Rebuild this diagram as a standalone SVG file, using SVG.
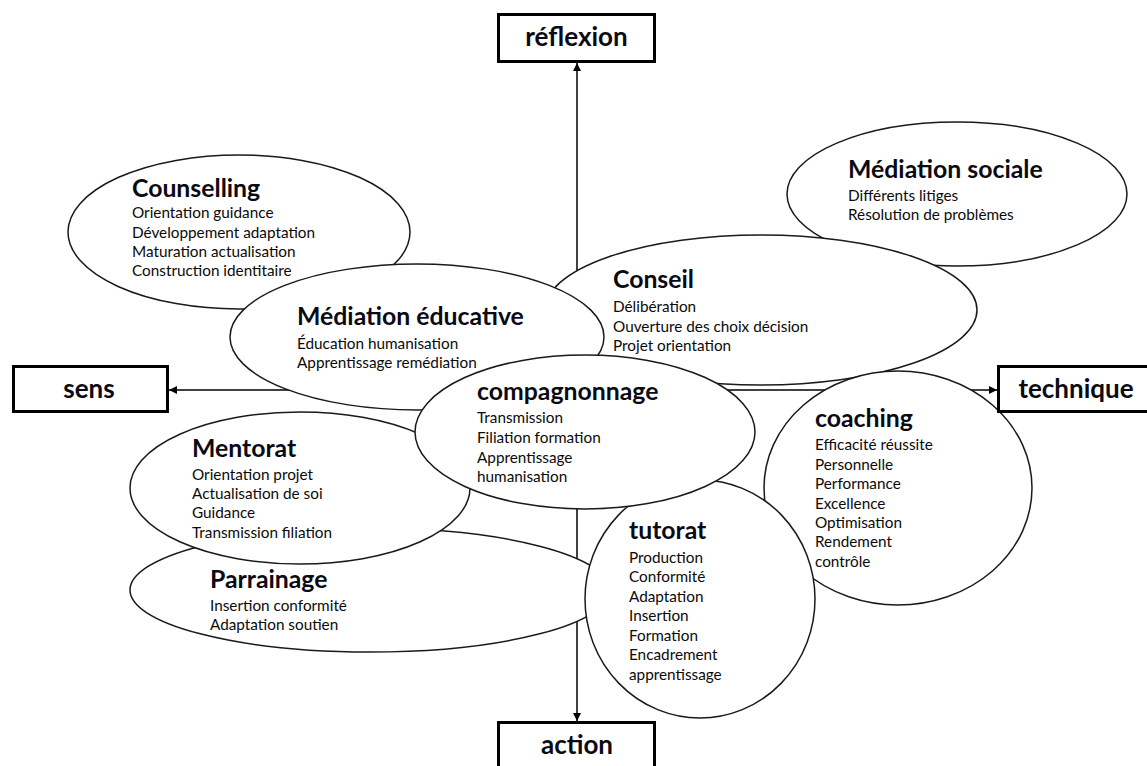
<svg xmlns="http://www.w3.org/2000/svg" width="1147" height="766" viewBox="0 0 1147 766">
<defs>
<marker id="arr" viewBox="0 0 8 8" refX="8" refY="4" markerWidth="8" markerHeight="8" markerUnits="userSpaceOnUse" orient="auto">
<path d="M0,0 L8,4 L0,8 z" fill="#000"/>
</marker>
</defs>
<style>
.ax{stroke:#000;stroke-width:1.5;fill:none}
.el{fill:#fff;stroke:#1a1a1a;stroke-width:1.5}
.box{fill:#fff;stroke:#000;stroke-width:3}
.t{font-family:Lato,"Liberation Sans",sans-serif;font-weight:bold;font-size:24.8px;fill:#0a0a14}
.b{font-family:Lato,"Liberation Sans",sans-serif;font-size:15.3px;fill:#0a0a0a}
.lb{font-family:Lato,"Liberation Sans",sans-serif;font-weight:bold;font-size:26px;fill:#0a0a14;text-anchor:middle}
</style>
<rect width="1147" height="766" fill="#fff"/>
<g id="connectors">
<line class="ax" x1="577" y1="390" x2="577" y2="63" marker-end="url(#arr)"/>
<line class="ax" x1="577" y1="390" x2="577" y2="721" marker-end="url(#arr)"/>
<line class="ax" x1="577" y1="390" x2="169" y2="390" marker-end="url(#arr)"/>
<line class="ax" x1="577" y1="390" x2="997" y2="390" marker-end="url(#arr)"/>
</g>
<g id="counselling">
<ellipse class="el" cx="239" cy="232" rx="171" ry="77"/>
<text class="t" x="132" y="197">Counselling</text>
<text class="b" x="132" y="218">Orientation  guidance</text>
<text class="b" x="132" y="238">Développement  adaptation</text>
<text class="b" x="132" y="257">Maturation actualisation</text>
<text class="b" x="132" y="276">Construction identitaire</text>
</g>
<g id="mediation-sociale">
<ellipse class="el" cx="957" cy="194" rx="170" ry="72"/>
<text class="t" x="848" y="178">Médiation sociale</text>
<text class="b" x="848" y="201">Différents litiges</text>
<text class="b" x="848" y="220">Résolution de problèmes</text>
</g>
<g id="conseil">
<ellipse class="el" cx="761" cy="310" rx="216" ry="75"/>
<text class="t" x="613" y="288">Conseil</text>
<text class="b" x="613" y="312">Délibération</text>
<text class="b" x="613" y="332">Ouverture  des choix décision</text>
<text class="b" x="613" y="351">Projet orientation</text>
</g>
<g id="mediation-educative">
<ellipse class="el" cx="417" cy="337" rx="187" ry="73"/>
<text class="t" x="297" y="325">Médiation éducative</text>
<text class="b" x="297" y="349">Éducation  humanisation</text>
<text class="b" x="297" y="368">Apprentissage  remédiation</text>
</g>
<g id="parrainage">
<ellipse class="el" cx="370" cy="590" rx="240" ry="62"/>
<text class="t" x="210" y="588">Parrainage</text>
<text class="b" x="210" y="611">Insertion conformité</text>
<text class="b" x="210" y="630">Adaptation soutien</text>
</g>
<g id="mentorat">
<ellipse class="el" cx="300" cy="488" rx="170" ry="76"/>
<text class="t" x="192" y="457">Mentorat</text>
<text class="b" x="192" y="480">Orientation  projet</text>
<text class="b" x="192" y="499">Actualisation de soi</text>
<text class="b" x="192" y="518">Guidance</text>
<text class="b" x="192" y="538">Transmission filiation</text>
</g>
<g id="coaching">
<ellipse class="el" cx="898" cy="488" rx="134" ry="117"/>
<text class="t" x="815" y="427">coaching</text>
<text class="b" x="815" y="450">Efficacité  réussite</text>
<text class="b" x="815" y="470">Personnelle</text>
<text class="b" x="815" y="489">Performance</text>
<text class="b" x="815" y="509">Excellence</text>
<text class="b" x="815" y="528">Optimisation</text>
<text class="b" x="815" y="547">Rendement</text>
<text class="b" x="815" y="567">contrôle</text>
</g>
<g id="tutorat">
<ellipse class="el" cx="700" cy="599" rx="115" ry="119"/>
<text class="t" x="629" y="539">tutorat</text>
<text class="b" x="629" y="563">Production</text>
<text class="b" x="629" y="582">Conformité</text>
<text class="b" x="629" y="602">Adaptation</text>
<text class="b" x="629" y="621">Insertion</text>
<text class="b" x="629" y="641">Formation</text>
<text class="b" x="629" y="660">Encadrement</text>
<text class="b" x="629" y="680">apprentissage</text>
</g>
<g id="compagnonnage">
<ellipse class="el" cx="585" cy="432" rx="170" ry="77"/>
<text class="t" x="477" y="400">compagnonnage</text>
<text class="b" x="477" y="423">Transmission</text>
<text class="b" x="477" y="443">Filiation formation</text>
<text class="b" x="477" y="463">Apprentissage</text>
<text class="b" x="477" y="482">humanisation</text>
</g>
<g id="reflexion">
<rect class="box" x="498.5" y="14.5" width="156" height="47"/>
<text class="lb" x="576.5" y="46">réflexion</text>
</g>
<g id="sens">
<rect class="box" x="13.5" y="366.5" width="154" height="45"/>
<text class="lb" x="89" y="398">sens</text>
</g>
<g id="technique">
<rect class="box" x="998.5" y="366.5" width="160" height="45"/>
<text class="lb" x="1076" y="398">technique</text>
</g>
<g id="action">
<rect class="box" x="498.5" y="722.5" width="156" height="50"/>
<text class="lb" x="577" y="754">action</text>
</g>
</svg>
